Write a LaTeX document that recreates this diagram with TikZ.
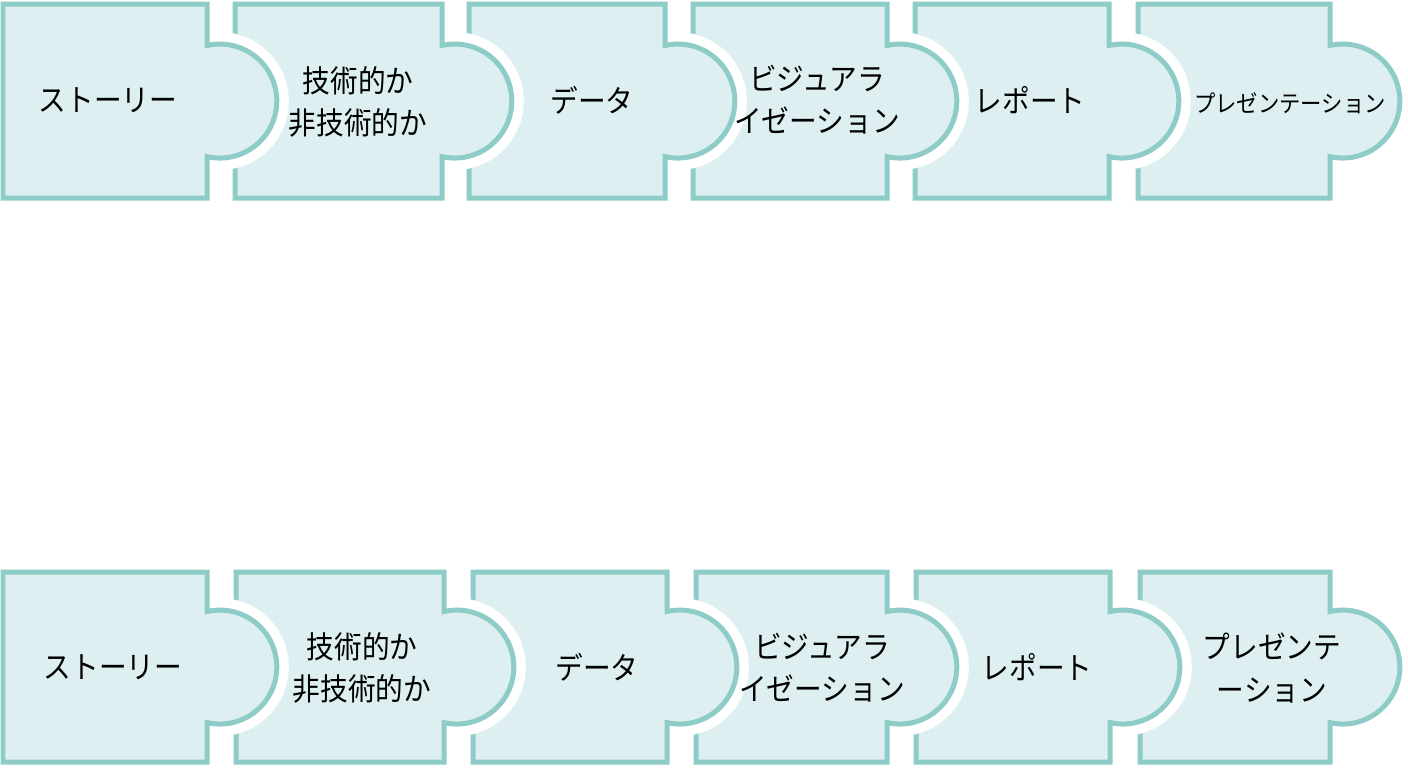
\documentclass[tikz,border=0pt]{standalone}
\usepackage{fontspec}
\setmainfont{Noto Sans CJK JP}[FakeStretch=0.9]
\usepackage{tikz}
\definecolor{puzzleedge}{RGB}{142,204,200}
\definecolor{puzzlefill}{RGB}{221,239,240}

\begin{document}
\begin{tikzpicture}[x=0.02cm, y=-0.02cm,
  piece/.style={draw=puzzleedge, fill=puzzlefill, line width=0.1cm,
    preaction={draw=white, line width=0.48cm}},
  piecetext/.style={black, align=center, font=\fontsize{17.5}{24}\selectfont}]
\useasboundingbox (0,0) rectangle (1408,768);

% obere reihe, von rechts nach links
\foreach \l/\r in {1138/1330, 915/1109, 693/887, 469/665, 235/442, 3/207}
  \path[piece] (\l,4) -- (\r,4) -- (\r,45.5) arc[start angle=-103, end angle=103, radius=57]
    -- (\r,198) -- (\l,198) -- cycle;

% untere reihe
\foreach \l/\r in {1140/1330, 916/1110, 696/887, 473/667, 236/444, 3/207}
  \path[piece] (\l,572) -- (\r,572) -- (\r,611.5) arc[start angle=-103, end angle=103, radius=57]
    -- (\r,762) -- (\l,762) -- cycle;

\node[piecetext] (A1) at (108,100) {ストーリー};
\node[piecetext] (B1) at (358,102) {技術的か\\非技術的か};
\node[piecetext] (C1) at (592,100) {データ};
\node[piecetext] (D1) at (817,100) {ビジュアラ\\イゼーション};
\node[piecetext] (E1) at (1030,100) {レポート};
\node[piecetext, font=\fontsize{13.5}{15}\selectfont] (F1) at (1290,103) {プレゼンテーション};

\node[piecetext] (A2) at (113,667) {ストーリー};
\node[piecetext] (B2) at (362,668) {技術的か\\非技術的か};
\node[piecetext] (C2) at (597,667) {データ};
\node[piecetext] (D2) at (822,668) {ビジュアラ\\イゼーション};
\node[piecetext] (E2) at (1037,667) {レポート};
\node[piecetext] (F2) at (1272,668) {プレゼンテ\\ーション};

\end{tikzpicture}
\end{document}
